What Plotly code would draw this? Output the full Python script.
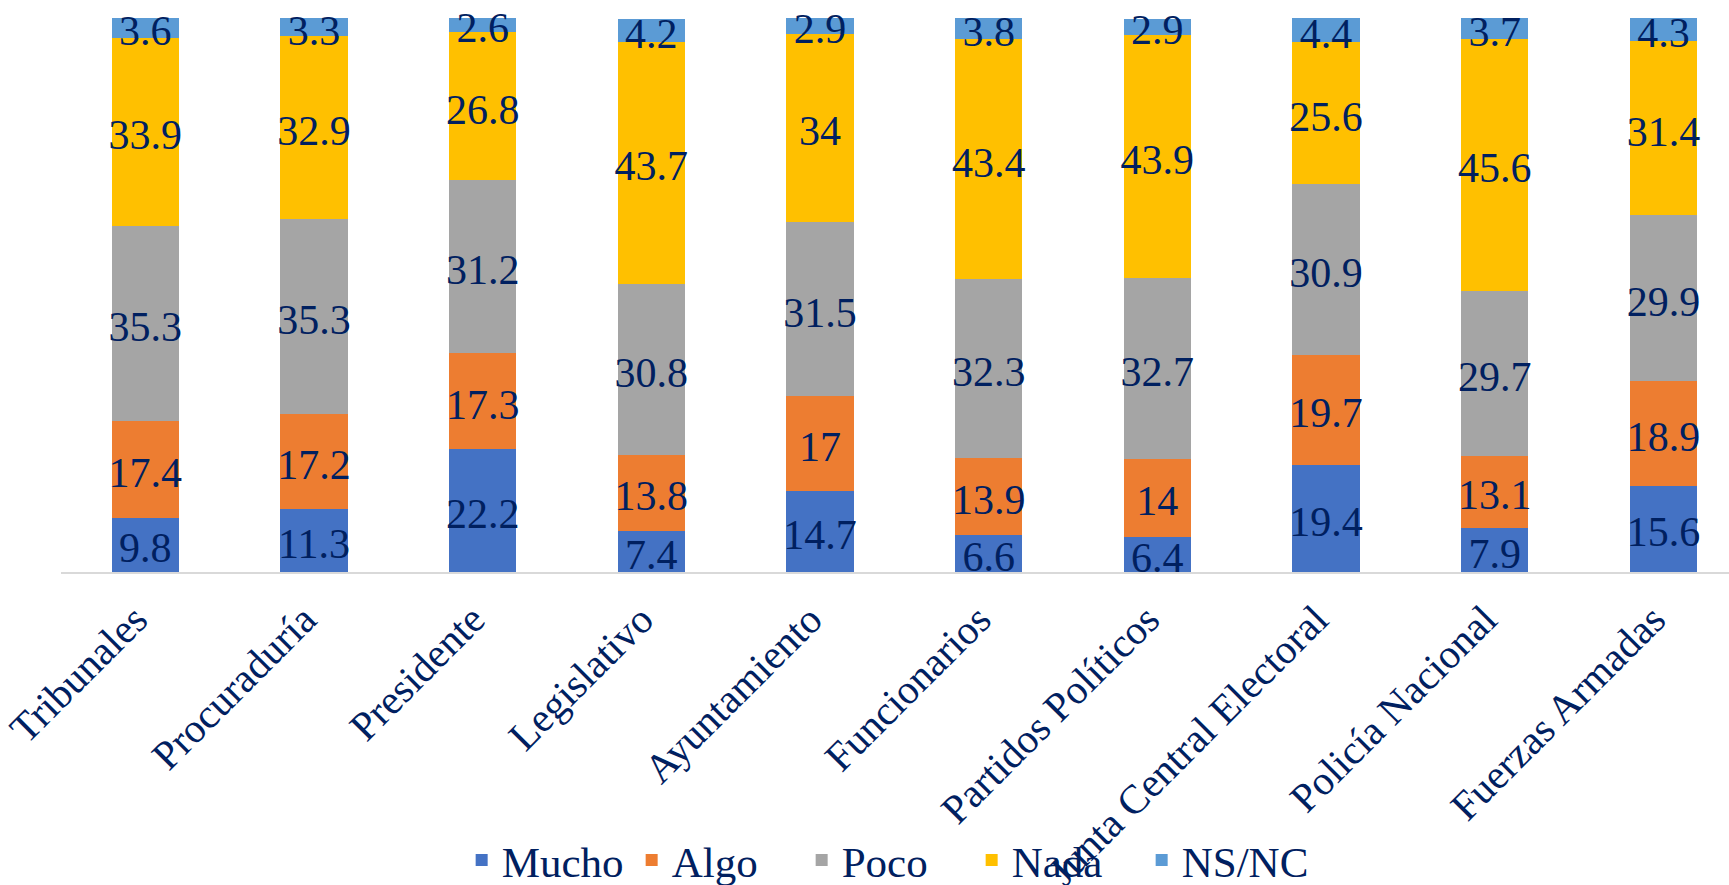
import plotly.graph_objects as go
import numpy as np

categories = ["Tribunales", "Procuraduría", "Presidente", "Legislativo", "Ayuntamiento",
              "Funcionarios", "Partidos Políticos", "Junta Central Electoral",
              "Policía Nacional", "Fuerzas Armadas"]
mucho = [9.8, 11.3, 22.2, 7.4, 14.7, 6.6, 6.4, 19.4, 7.9, 15.6]
algo = [17.4, 17.2, 17.3, 13.8, 17, 13.9, 14, 19.7, 13.1, 18.9]
poco = [35.3, 35.3, 31.2, 30.8, 31.5, 32.3, 32.7, 30.9, 29.7, 29.9]
nada = [33.9, 32.9, 26.8, 43.7, 34, 43.4, 43.9, 25.6, 45.6, 31.4]
nsnc = [3.6, 3.3, 2.6, 4.2, 2.9, 3.8, 2.9, 4.4, 3.7, 4.3]

series = [("Mucho", mucho, "#4472C4"), ("Algo", algo, "#ED7D31"),
          ("Poco", poco, "#A5A5A5"), ("Nada", nada, "#FFC000"),
          ("NS/NC", nsnc, "#5B9BD5")]

TXT = "#002060"
FONT = "Liberation Serif"
xs = list(range(len(categories)))

H, MT, MB = 885, 18, 313
YMAX = 100
px_per_unit = (H - MT - MB) / YMAX
label_drop = 7 / px_per_unit  # small downward nudge of labels (style)

fig = go.Figure()
base = np.zeros(len(categories))
label_traces = []
for name, vals, col in series:
    v = np.array(vals, dtype=float)
    fig.add_trace(go.Bar(
        name=name, x=xs, y=vals,
        marker=dict(color=col, line=dict(width=0)),
        width=0.4, hoverinfo="skip",
    ))
    label_traces.append(go.Scatter(
        x=xs, y=base + v / 2 - label_drop, mode="text",
        text=[str(t) for t in vals], textposition="middle center",
        textfont=dict(family=FONT, size=42, color=TXT),
        showlegend=False, hoverinfo="skip", cliponaxis=False,
    ))
    base = base + v

for t in label_traces:
    fig.add_trace(t)

fig.update_layout(
    barmode="stack",
    width=1729, height=H,
    margin=dict(l=61, r=0, t=MT, b=MB, autoexpand=False),
    paper_bgcolor="white", plot_bgcolor="white",
    font=dict(family=FONT, color=TXT),
    hovermode=False,
    xaxis=dict(
        range=[-0.5, 9.389], tickmode="array",
        tickvals=xs, ticktext=categories,
        tickangle=-45, tickfont=dict(family=FONT, size=41, color=TXT),
        showline=True, linecolor="#D9D9D9", linewidth=2,
        showgrid=False, zeroline=False, ticks="", ticklabelstandoff=5,
        ticklabelshift=-10, automargin=False, ticklabeloverflow="allow",
    ),
    yaxis=dict(range=[0, YMAX], visible=False, showgrid=False, zeroline=False,
               automargin=False),
    legend=dict(
        orientation="h", x=0.495, xanchor="center", y=-0.52, yanchor="middle",
        font=dict(family=FONT, size=43, color=TXT),
        traceorder="normal", entrywidth=125, bgcolor="rgba(0,0,0,0)",
    ),
    showlegend=True,
)

fig.write_html("out.html", config={"displayModeBar": False},
               post_script="document.body.style.margin='0';document.body.style.overflow='hidden';")
